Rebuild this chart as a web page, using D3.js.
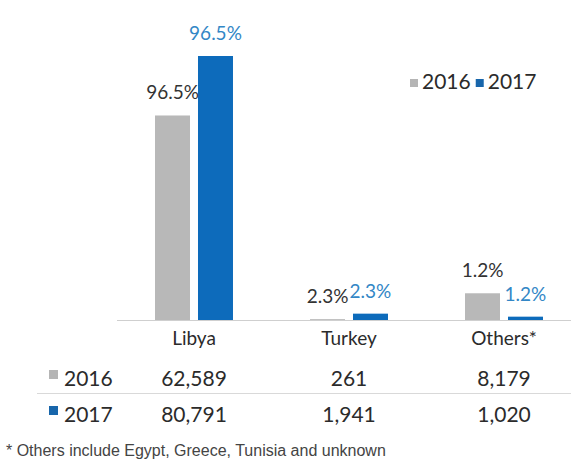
<!DOCTYPE html>
<html>
<head>
<meta charset="utf-8">
<script src="https://cdn.jsdelivr.net/npm/d3@7"></script>
<style>
  html, body { margin: 0; padding: 0; background: #fff; }
  svg { display: block; }
</style>
</head>
<body>
<svg id="chart" width="571" height="463"></svg>
<script>
// Arrivals by departure country, 2016 vs 2017
const categories = ["Libya", "Turkey", "Others*"];
const years = ["2016", "2017"];
const values2016 = [62589, 261, 8179];
const values2017 = [80791, 1941, 1020];
const shares2016 = ["96.5%", "2.3%", "1.2%"];
const shares2017 = ["96.5%", "2.3%", "1.2%"];
const footnote = "* Others include Egypt, Greece, Tunisia and unknown";

const colors = { "2016": "#b8b8b8", "2017": "#0d6bbb" };
const labelColors = { "2016": "#333333", "2017": "#3387c6" };
const tableKeyColors = { "2016": "#b5b5b5", "2017": "#1866ab" };

const svg = d3.select("#chart");
const font = "Lato, 'Open Sans', sans-serif";

const baseY = 320;
const topY = 56;

const x0 = d3.scaleBand()
  .domain(categories)
  .range([116.5, 581.5])
  .paddingInner(0.497)
  .paddingOuter(0.2485);

const x1 = d3.scaleBand()
  .domain(years)
  .range([0, x0.bandwidth()])
  .paddingInner(0.186);

const y = d3.scaleLinear()
  .domain([0, d3.max(values2017)])
  .range([baseY, topY]);

const rows = categories.map((c, i) => ({
  category: c,
  series: [
    { year: "2016", value: values2016[i], share: shares2016[i] },
    { year: "2017", value: values2017[i], share: shares2017[i] }
  ]
}));

// Bars
const groups = svg.append("g").selectAll("g")
  .data(rows)
  .join("g")
  .attr("transform", d => `translate(${x0(d.category)},0)`);

groups.selectAll("rect")
  .data(d => d.series)
  .join("rect")
  .attr("x", d => x1(d.year))
  .attr("width", x1.bandwidth())
  .attr("y", d => y(d.value))
  .attr("height", d => baseY - y(d.value))
  .attr("fill", d => colors[d.year]);

// Share labels above bars
groups.selectAll("text")
  .data(d => d.series)
  .join("text")
  .attr("x", d => x1(d.year) + x1.bandwidth() / 2)
  .attr("y", d => y(d.value) - 16)
  .attr("text-anchor", "middle")
  .attr("font-family", font)
  .attr("font-size", 19)
  .attr("fill", d => labelColors[d.year])
  .text(d => d.share);

// Category axis
const axis = svg.append("g")
  .attr("transform", `translate(0,${baseY})`)
  .call(d3.axisBottom(x0).tickSize(0).tickPadding(12));
axis.select(".domain").attr("stroke", "#cfcfcf").attr("stroke-width", 1.2);
axis.selectAll(".tick text")
  .attr("font-family", font)
  .attr("font-size", 19)
  .attr("fill", "#2b2b2b");

// Legend
const legend = svg.append("g").attr("transform", "translate(410,89)");
let lx = 0;
years.forEach(yr => {
  legend.append("rect")
    .attr("x", lx).attr("y", -10).attr("width", 8).attr("height", 8)
    .attr("fill", tableKeyColors[yr]);
  const t = legend.append("text")
    .attr("x", lx + 12).attr("y", 0)
    .attr("font-family", font)
    .attr("font-size", 21)
    .attr("fill", "#2b2b2b")
    .text(yr);
  lx += 12 + t.node().getComputedTextLength() + 5;
});

// Data table under the axis
const tableRows = [
  { year: "2016", values: values2016, y: 386 },
  { year: "2017", values: values2017, y: 422 }
];
const fmt = d3.format(",");

svg.append("line")
  .attr("x1", 37).attr("x2", 571)
  .attr("y1", 393.5).attr("y2", 393.5)
  .attr("stroke", "#d9d9d9").attr("stroke-width", 1.2);

tableRows.forEach(r => {
  svg.append("rect")
    .attr("x", 49).attr("y", r.y - 16).attr("width", 9).attr("height", 9)
    .attr("fill", tableKeyColors[r.year]);
  svg.append("text")
    .attr("x", 64).attr("y", r.y)
    .attr("font-family", font)
    .attr("font-size", 21)
    .attr("fill", "#2b2b2b")
    .text(r.year);
  svg.append("g").selectAll("text")
    .data(categories.map((c, i) => ({ c, v: r.values[i] })))
    .join("text")
    .attr("x", d => x0(d.c) + x0.bandwidth() / 2)
    .attr("y", r.y)
    .attr("text-anchor", "middle")
    .attr("font-family", font)
    .attr("font-size", 21)
    .attr("fill", "#2b2b2b")
    .text(d => fmt(d.v));
});

// Footnote
svg.append("text")
  .attr("x", 6).attr("y", 456)
  .attr("font-family", "'Liberation Sans', Arial, sans-serif")
  .attr("font-size", 16)
  .attr("fill", "#444")
  .text(footnote);
</script>
</body>
</html>
